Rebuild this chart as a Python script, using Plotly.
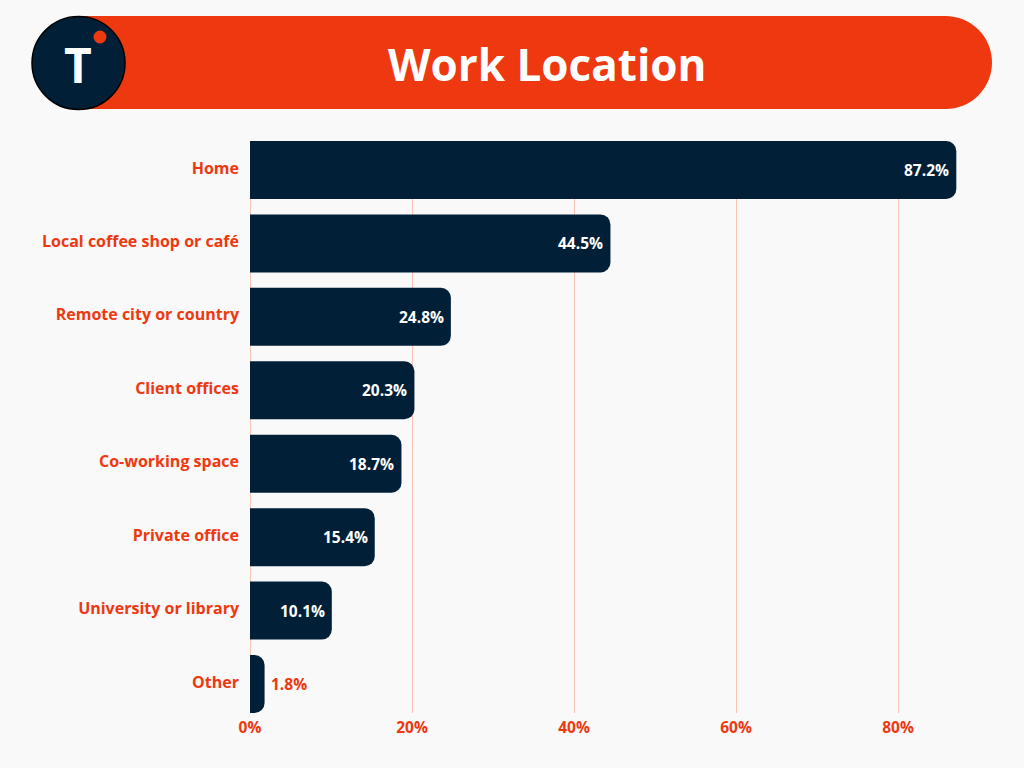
import plotly.graph_objects as go

categories = ["Home", "Local coffee shop or café", "Remote city or country", "Client offices",
              "Co-working space", "Private office", "University or library", "Other"]
values = [87.2, 44.5, 24.8, 20.3, 18.7, 15.4, 10.1, 1.8]
x_ticks = [0, 20, 40, 60, 80]
x_ticklabels = ["0%", "20%", "40%", "60%", "80%"]
title_text = "Work Location"

W, H = 1024, 768
ORANGE = "#EE3810"
NAVY = "#012038"
BG = "#F9F9F9"
GRID = "#F8C4B4"
FONT = "Open Sans"

def X(px):
    return px / W

def Y(py):
    return 1 - py / H

positions = list(range(len(categories)))
bar_w = 0.79

fig = go.Figure()
fig.add_trace(go.Bar(
    x=values, y=positions, orientation="h",
    width=bar_w,
    marker=dict(color=NAVY, cornerradius=10, line=dict(width=0)),
    hoverinfo="skip",
))

annotations = []
for v, p in zip(values, positions):
    inside = v > 5
    annotations.append(dict(
        x=v, y=p, xref="x", yref="y", text=f"{v:.1f}%", showarrow=False,
        xanchor="right" if inside else "left", yanchor="middle",
        xshift=-5 if inside else 4, yshift=0,
        font=dict(family=FONT, size=15.5, color="white" if inside else ORANGE, weight="bold"),
    ))

shapes = [
    dict(type="rect", xref="paper", yref="paper", x0=X(78), x1=X(945.5), y0=Y(109), y1=Y(16),
         fillcolor=ORANGE, line=dict(width=0), layer="above"),
    dict(type="circle", xref="paper", yref="paper", x0=X(899), x1=X(992), y0=Y(109), y1=Y(16),
         fillcolor=ORANGE, line=dict(width=0), layer="above"),
    dict(type="circle", xref="paper", yref="paper", x0=X(32), x1=X(125), y0=Y(109.5), y1=Y(16.5),
         fillcolor=NAVY, line=dict(width=1.5, color="#000000"), layer="above"),
    dict(type="circle", xref="paper", yref="paper", x0=X(93.5), x1=X(106.5), y0=Y(43.5), y1=Y(30.5),
         fillcolor=ORANGE, line=dict(width=0), layer="above"),
]

annotations += [
    dict(text=title_text, xref="paper", yref="paper", x=X(547), y=Y(64), showarrow=False,
         xanchor="center", yanchor="middle",
         font=dict(family=FONT, size=44, color="white", weight="bold")),
    dict(text="T", xref="paper", yref="paper", x=X(77.5), y=Y(64), showarrow=False,
         xanchor="center", yanchor="middle",
         font=dict(family=FONT, size=48, color="white", weight="bold")),
]

fig.update_layout(
    width=W, height=H,
    margin=dict(l=0, r=0, t=0, b=0),
    paper_bgcolor=BG, plot_bgcolor=BG,
    showlegend=False,
    shapes=shapes,
    annotations=annotations,
    xaxis=dict(
        domain=[X(250), X(250 + 92 * 8.1)],
        range=[0, 92],
        tickvals=x_ticks, ticktext=x_ticklabels,
        showgrid=True, gridcolor=GRID, gridwidth=1,
        zeroline=True, zerolinecolor=GRID, zerolinewidth=1,
        showline=False, ticks="",
        ticklabelstandoff=3,
        tickfont=dict(family=FONT, size=15.5, color=ORANGE, weight="bold"),
        automargin=False, fixedrange=True,
    ),
    yaxis=dict(
        domain=[Y(713), Y(141)],
        range=[len(categories) - 1 + bar_w / 2, -bar_w / 2],
        tickvals=positions, ticktext=categories,
        showgrid=False, zeroline=False, showline=False, ticks="",
        ticklabelstandoff=10,
        ticklabelshift=2,
        tickfont=dict(family=FONT, size=16, color=ORANGE, weight="bold"),
        automargin=False, fixedrange=True,
    ),
)

fig.write_html("out.html", config={"displayModeBar": False})
